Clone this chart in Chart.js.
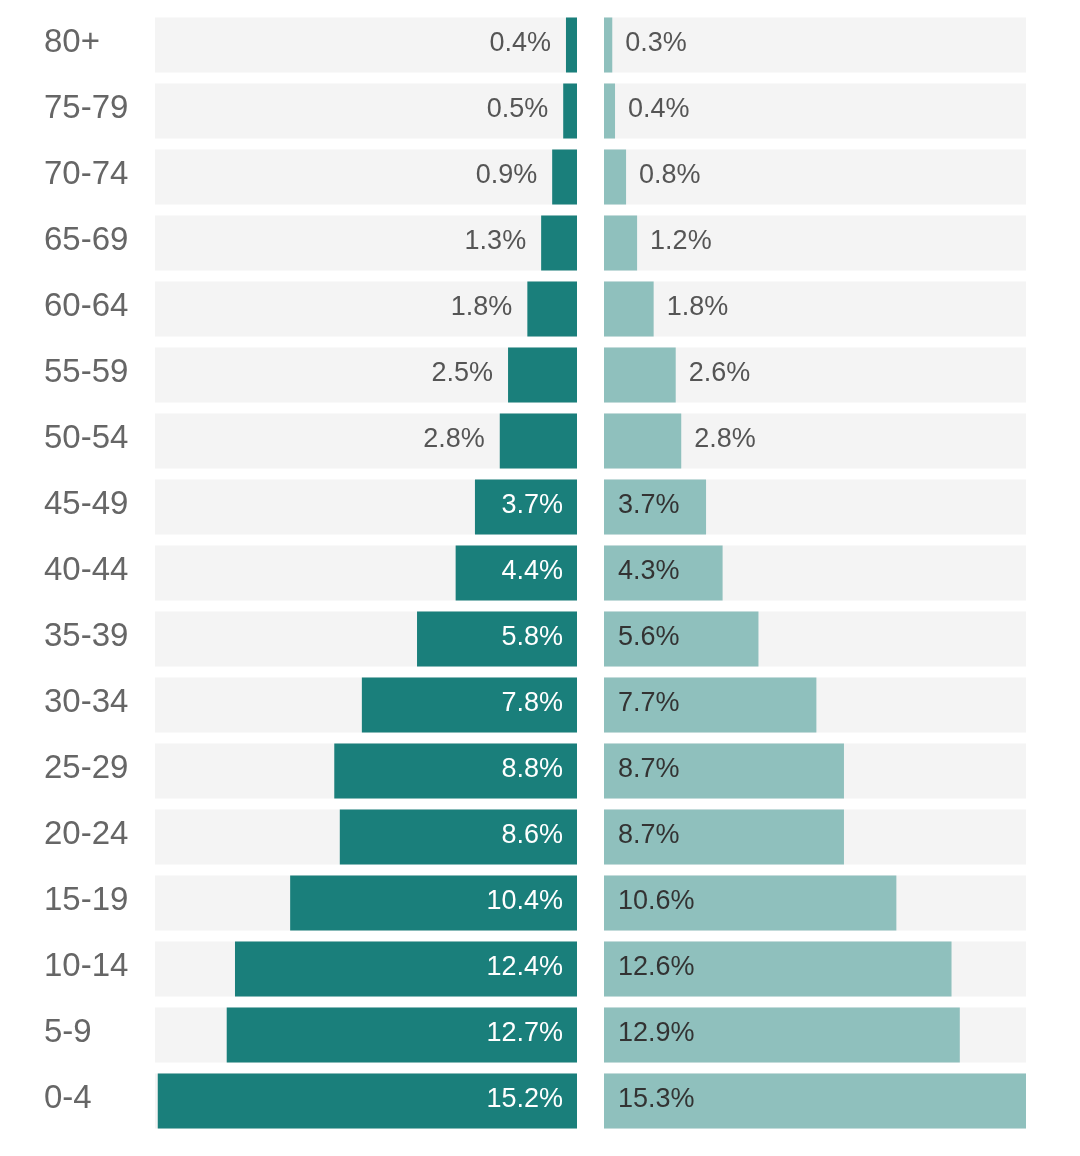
<!DOCTYPE html>
<html>
<head>
<meta charset="utf-8">
<script src="https://cdn.jsdelivr.net/npm/chart.js@4"></script>
<style>
  html, body { margin: 0; padding: 0; background: #fff; }
  #wrap { position: relative; width: 1080px; height: 1156px; }
  #leftBox { position: absolute; left: 0; top: 0; width: 577px; height: 1156px; }
  #rightBox { position: absolute; left: 577px; top: 0; width: 503px; height: 1156px; }
</style>
</head>
<body>
<div id="wrap">
  <div id="leftBox"><canvas id="leftChart"></canvas></div>
  <div id="rightBox"><canvas id="rightChart"></canvas></div>
</div>
<script>
// age groups, top to bottom
var ageGroups = ["80+", "75-79", "70-74", "65-69", "60-64", "55-59", "50-54", "45-49", "40-44",
                 "35-39", "30-34", "25-29", "20-24", "15-19", "10-14", "5-9", "0-4"];
var maleShare = [0.4, 0.5, 0.9, 1.3, 1.8, 2.5, 2.8, 3.7, 4.4, 5.8, 7.8, 8.8, 8.6, 10.4, 12.4, 12.7, 15.2];
var femaleShare = [0.3, 0.4, 0.8, 1.2, 1.8, 2.6, 2.8, 3.7, 4.3, 5.6, 7.7, 8.7, 8.7, 10.6, 12.6, 12.9, 15.3];
var axisMax = 15.3;
var insideFrom = 3.5; // labels go inside the bar from this value up

var FONT = '"Liberation Sans", Arial, Helvetica, sans-serif';
var fullRow = ageGroups.map(function () { return axisMax; });

Chart.defaults.font.family = FONT;
Chart.defaults.animation = false;

// draws the % value next to / inside each bar
function valueLabels(side) {
    return {
        id: 'valueLabels_' + side,
        afterDatasetsDraw: function (chart) {
            var ctx = chart.ctx;
            var meta = chart.getDatasetMeta(0);
            var vals = chart.data.datasets[0].data;
            ctx.save();
            ctx.font = '27px ' + FONT;
            ctx.textBaseline = 'middle';
            meta.data.forEach(function (bar, i) {
                var v = vals[i];
                var txt = v.toFixed(1) + '%';
                var inside = v >= insideFrom;
                var y = bar.y - 1;
                if (side == 'left') {
                    ctx.textAlign = 'right';
                    if (inside) {
                        ctx.fillStyle = '#ffffff';
                        ctx.fillText(txt, bar.base - 14, y);
                    } else {
                        ctx.fillStyle = '#555555';
                        ctx.fillText(txt, bar.x - 15, y);
                    }
                } else {
                    ctx.textAlign = 'left';
                    if (inside) {
                        ctx.fillStyle = '#333333';
                        ctx.fillText(txt, bar.base + 14, y);
                    } else {
                        ctx.fillStyle = '#555555';
                        ctx.fillText(txt, bar.x + 13, y);
                    }
                }
            });
            ctx.restore();
        }
    };
}

// category names on the far left
var ageLabels = {
    id: 'ageLabels',
    afterDraw: function (chart) {
        var ctx = chart.ctx;
        var yScale = chart.scales.y;
        ctx.save();
        ctx.font = '33px ' + FONT;
        ctx.fillStyle = '#666666';
        ctx.textAlign = 'left';
        ctx.textBaseline = 'middle';
        chart.data.labels.forEach(function (lab, i) {
            ctx.fillText(lab, 44, yScale.getPixelForValue(i) - 2);
        });
        ctx.restore();
    }
};

function makeChart(id, values, color, side) {
    var plugins = [valueLabels(side)];
    if (side == 'left') plugins.push(ageLabels);
    return new Chart(id, {
        type: 'bar',
        data: {
            labels: ageGroups,
            datasets: [{
                data: values,
                backgroundColor: color,
                grouped: false,
                barPercentage: 55 / 66,
                categoryPercentage: 1
            }, {
                data: fullRow,
                backgroundColor: '#f4f4f4',
                grouped: false,
                barPercentage: 55 / 66,
                categoryPercentage: 1
            }]
        },
        options: {
            indexAxis: 'y',
            responsive: true,
            maintainAspectRatio: false,
            layout: {
                padding: side == 'left'
                    ? { left: 155, right: 0, top: 12, bottom: 22 }
                    : { left: 27, right: 54, top: 12, bottom: 22 }
            },
            scales: {
                x: { display: false, min: 0, max: axisMax, reverse: side == 'left' },
                y: { display: false }
            },
            plugins: {
                legend: { display: false },
                tooltip: { enabled: false }
            }
        },
        plugins: plugins
    });
}

makeChart('leftChart', maleShare, '#1a7f7b', 'left');
makeChart('rightChart', femaleShare, '#8fc0bd', 'right');
</script>
</body>
</html>
